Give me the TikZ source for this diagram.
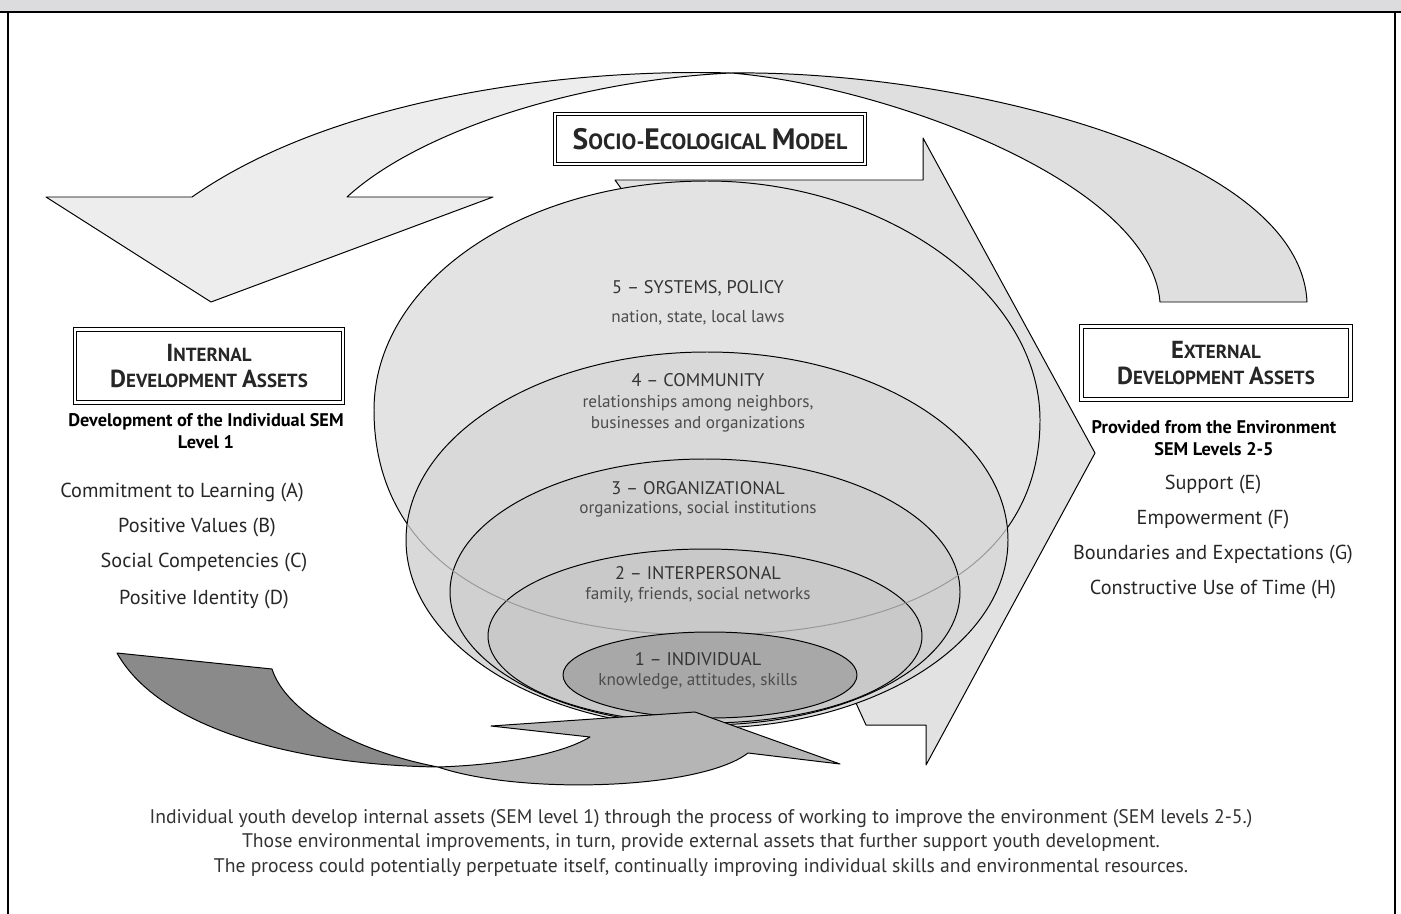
\documentclass[tikz,border=0pt]{standalone}
\usepackage{fontspec}
\setmainfont{PT Sans}
\definecolor{bandgray}{HTML}{DCDCDE}
\definecolor{arcleft}{HTML}{EDEDED}
\definecolor{arcright}{HTML}{DFDFDF}
\definecolor{bigarrow}{HTML}{E2E2E2}
\definecolor{levelfive}{HTML}{E3E3E3}
\definecolor{levelfour}{HTML}{D9D9D9}
\definecolor{levelthree}{HTML}{D0D0D0}
\definecolor{leveltwo}{HTML}{C9C9C9}
\definecolor{levelone}{HTML}{A8A8A8}
\definecolor{ribbondark}{HTML}{8A8A8A}
\definecolor{ribbonlight}{HTML}{B5B5B5}
\newcommand\initcap[1]{{\fontsize{21}{21}\selectfont #1}}
\newcommand\boxcap[1]{{\fontsize{17.5}{17.5}\selectfont #1}}

\begin{document}
\begin{tikzpicture}[x=0.025cm, y=-0.025cm,
    every node/.style={align=center, inner sep=0pt, text=black!85},
    shape line/.style={draw=black, line width=0.7pt, line join=round},
    dblbox/.style={draw, double, double distance=1.6pt, line width=0.8pt, fill=white},
    boxtitle/.style={font=\bfseries\fontsize{13.5}{19}\selectfont},
    subhead/.style={font=\bfseries\fontsize{13}{16}\selectfont, text=black},
    asset/.style={font=\fontsize{14.4}{16}\selectfont, text=black!85},
    levelhead/.style={font=\fontsize{13}{15}\selectfont, text=black!80},
    leveltext/.style={font=\fontsize{12.2}{15}\selectfont, text=black!70}]
    \useasboundingbox (0,0) rectangle (1401,914);

    % Frame
    \fill[bandgray] (0,0) rectangle (1401,12);
    \draw[line width=1.5pt] (0,12) -- (1401,12);
    \draw[line width=1.5pt] (8,12) -- (8,914);
    \draw[line width=1.5pt] (1395,12) -- (1395,914);

    % Top curved arrow (twisted band)
    \path[shape line, fill=arcleft] (731,73) .. controls (560,68) and (330,100) .. (192,197)
        -- (46,197) -- (211,302) -- (493,197) -- (347,197)
        .. controls (420,130) and (580,80) .. (731,73) -- cycle;
    \path[shape line, fill=arcright] (731,73) .. controls (950,70) and (1300,150) .. (1307,302)
        -- (1160,302) .. controls (1150,180) and (880,85) .. (731,73) -- cycle;

    % Big arrow to the right (behind the levels)
    \path[shape line, fill=bigarrow] (615,180) -- (923,180) -- (923,138) -- (1095,453)
        -- (926,765) -- (926,725) -- (866,725) -- (850,690) -- (640,215) -- cycle;

    % SEM levels
    \path[shape line, fill=levelfive] (707,181) .. controls (885,181) and (1040,292) .. (1040,420)
        .. controls (1040,556) and (920,635) .. (707,635)
        .. controls (494,635) and (374,553) .. (374,410)
        .. controls (374,283) and (521,181) .. (707,181) -- cycle;
    \path[shape line, fill=levelfour] (707,540) ellipse [x radius=301, y radius=188];
    \path[shape line, fill=levelthree] (705,592) ellipse [x radius=255, y radius=133];
    \path[shape line, fill=leveltwo] (705,636) ellipse [x radius=217, y radius=87];
    % rim of level 5 seen through
    \begin{scope}
        \clip (707,540) ellipse [x radius=300, y radius=187];
        \draw[black!40, line width=0.7pt] (1040,420) .. controls (1040,556) and (920,635) .. (707,635)
            .. controls (494,635) and (374,553) .. (374,410);
    \end{scope}
    \path[shape line, fill=levelone] (710,675) ellipse [x radius=147, y radius=43];

    % Bottom arrow (twisted band)
    \path[shape line, fill=ribbondark] (438,767) .. controls (300,765) and (160,730) .. (117,653)
        -- (272,669) .. controls (285,710) and (350,750) .. (438,767) -- cycle;
    \path[shape line, fill=ribbonlight] (438,767) .. controls (500,765) and (560,755) .. (590,737)
        -- (491,726) -- (695,712) -- (840,764) -- (748,753)
        .. controls (700,790) and (520,795) .. (438,767) -- cycle;

    % Level labels
    \node[levelhead] (headfive) at (698,288) {5 – SYSTEMS, POLICY};
    \node[leveltext] (textfive) at (698,318) {nation, state, local laws};
    \node[levelhead] (headfour) at (698,380) {4 – COMMUNITY};
    \node[leveltext] (textfour) at (698,414) {relationships among neighbors,\\businesses and organizations};
    \node[levelhead] (headthree) at (698,488) {3 – ORGANIZATIONAL};
    \node[leveltext] (textthree) at (698,509) {organizations, social institutions};
    \node[levelhead] (headtwo) at (698,573) {2 – INTERPERSONAL};
    \node[leveltext] (texttwo) at (698,595) {family, friends, social networks};
    \node[levelhead] (headone) at (698,659) {1 – INDIVIDUAL};
    \node[leveltext] (textone) at (698,681) {knowledge, attitudes, skills};

    % Title boxes
    \node[dblbox, minimum width=7.75cm, minimum height=1.25cm, font=\bfseries\fontsize{15.7}{15.7}\selectfont]
        (semtitle) at (710,139) {\initcap{S}OCIO-\initcap{E}COLOGICAL \initcap{M}ODEL};
    \node[dblbox, boxtitle, minimum width=6.7cm, minimum height=1.825cm]
        (internal) at (209,366) {\boxcap{I}NTERNAL\\\boxcap{D}EVELOPMENT \boxcap{A}SSETS};
    \node[dblbox, boxtitle, minimum width=6.725cm, minimum height=1.825cm]
        (external) at (1216,363) {\boxcap{E}XTERNAL\\\boxcap{D}EVELOPMENT \boxcap{A}SSETS};

    % Internal assets
    \node[subhead] (intsub) at (206,431) {Development of the Individual SEM\\Level 1};
    \node[asset] (assetA) at (182,493) {Commitment to Learning (A)};
    \node[asset] (assetB) at (197,528) {Positive Values (B)};
    \node[asset] (assetC) at (204,563) {Social Competencies (C)};
    \node[asset] (assetD) at (204,600) {Positive Identity (D)};

    % External assets
    \node[subhead] (extsub) at (1214,438) {Provided from the Environment\\SEM Levels 2-5};
    \node[asset] (assetE) at (1213,485) {Support (E)};
    \node[asset] (assetF) at (1213,520) {Empowerment (F)};
    \node[asset] (assetG) at (1213,555) {Boundaries and Expectations (G)};
    \node[asset] (assetH) at (1213,590) {Constructive Use of Time (H)};

    % Caption
    \node[font=\fontsize{14}{17.4}\selectfont, text=black!80] (caption) at (701,843)
        {Individual youth develop internal assets (SEM level 1) through the process of working to improve the environment (SEM levels 2-5.)\\
         Those environmental improvements, in turn, provide external assets that further support youth development.\\
         The process could potentially perpetuate itself, continually improving individual skills and environmental resources.};
\end{tikzpicture}
\end{document}
